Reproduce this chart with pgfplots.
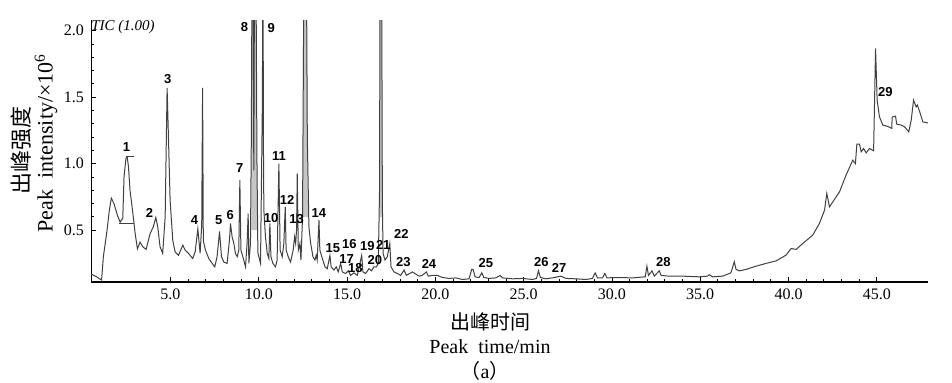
\documentclass[border=0pt]{standalone}
\usepackage{pgfplots}
\pgfplotsset{compat=1.18}
\usepackage{fontspec}
\setmainfont{Liberation Serif}
\newfontfamily\lab{Liberation Sans}
\newfontfamily\cjk{Noto Sans CJK SC}
\begin{document}
\begin{tikzpicture}
\path[use as bounding box] (0,0) rectangle (476pt,191pt);
\begin{axis}[
 at={(45.5pt,50pt)}, anchor=south west,
 scale only axis, width=418.5pt, height=131pt,
 xmin=0.5, xmax=47.9, ymin=0.11, ymax=2.08,
 axis x line*=bottom, axis y line*=left,
 x axis line style={line width=1.1pt,-}, y axis line style={line width=0.5pt,-},
 xtick={5,10,...,45}, ytick={0.5,1,1.5,2},
 minor x tick num=4, minor y tick num=4,
 tick align=inside, major tick length=2.5pt, minor tick length=1.5pt,
 tick style={black, line width=0.4pt},
 xticklabel style={/pgf/number format/fixed, /pgf/number format/fixed zerofill, /pgf/number format/precision=1},
 yticklabel style={/pgf/number format/fixed, /pgf/number format/fixed zerofill, /pgf/number format/precision=1},
 /pgf/number format/assume math mode=true,
 tick label style={font=\fontsize{8}{9}\selectfont},
 clip mode=individual,
]
\addplot[fill=gray!45, draw=none, forget plot] coordinates {(9.58,0.5) (9.62,2.5) (9.84,2.5) (9.90,0.5)} -- cycle;
\addplot[fill=gray!45, draw=none, forget plot] coordinates {(12.50,0.6) (12.56,2.5) (12.70,2.5) (12.78,0.6)} -- cycle;
\addplot[fill=gray!45, draw=none, forget plot] coordinates {(16.85,0.6) (16.87,2.5) (16.96,2.5) (16.99,0.6)} -- cycle;
\addplot[black!75, line width=0.5pt] coordinates {
(0.50,0.17) (0.80,0.15) (1.10,0.125) (1.20,0.30) (1.39,0.48) (1.54,0.65) (1.65,0.74) (1.80,0.70)
(2.00,0.61) (2.15,0.56) (2.30,0.59) (2.37,0.90) (2.48,1.04) (2.55,1.05) (2.62,0.98) (2.71,0.80)
(2.85,0.65) (3.00,0.475) (3.13,0.36) (3.28,0.41) (3.43,0.375) (3.62,0.355) (3.85,0.475) (4.03,0.525)
(4.17,0.595) (4.28,0.525) (4.41,0.375) (4.56,0.325) (4.70,0.60) (4.81,1.57) (4.88,1.23) (4.98,0.725)
(5.13,0.425) (5.26,0.337) (5.45,0.31) (5.70,0.387) (5.83,0.35) (6.02,0.325) (6.26,0.287) (6.40,0.337)
(6.55,0.51) (6.68,0.325) (6.77,0.54) (6.82,1.57) (6.86,0.42) (6.98,0.35) (7.17,0.287) (7.36,0.25)
(7.51,0.224) (7.64,0.30) (7.78,0.49) (7.89,0.30) (8.02,0.26) (8.21,0.25) (8.34,0.425) (8.40,0.55)
(8.49,0.45) (8.59,0.40) (8.68,0.325) (8.78,0.30) (8.87,0.35) (8.93,0.876) (8.99,0.35) (9.10,0.30)
(9.25,0.224) (9.34,0.40) (9.40,0.625) (9.44,0.25) (9.53,0.40) (9.58,1.2) (9.62,2.5) (9.68,2.5)
(9.72,0.95) (9.76,2.5) (9.84,2.5) (9.90,1.0) (9.95,0.33) (10.10,0.25) (10.20,1.4) (10.24,2.5)
(10.27,1.0) (10.29,0.65) (10.38,0.45) (10.48,0.325) (10.57,0.287) (10.63,0.55) (10.69,0.30) (10.80,0.25)
(10.95,0.224) (11.04,0.275) (11.14,1.00) (11.21,0.35) (11.33,0.30) (11.42,0.40) (11.50,0.675) (11.55,0.35)
(11.67,0.30) (11.80,0.26) (11.95,0.35) (12.03,0.45) (12.09,0.40) (12.14,0.50) (12.18,0.925) (12.24,0.35)
(12.33,0.40) (12.39,0.275) (12.48,0.60) (12.53,1.8) (12.56,2.5) (12.70,2.5) (12.75,1.2) (12.84,0.525)
(12.94,0.40) (13.07,0.30) (13.18,0.275) (13.25,0.31) (13.31,0.275) (13.41,0.575) (13.46,0.35) (13.60,0.287)
(13.75,0.224) (13.88,0.21) (14.03,0.31) (14.10,0.224) (14.26,0.20) (14.39,0.224) (14.50,0.186) (14.64,0.25)
(14.73,0.186) (14.92,0.174) (15.07,0.194) (15.20,0.16) (15.39,0.179) (15.58,0.16) (15.83,0.31) (15.90,0.186)
(16.05,0.174) (16.24,0.21) (16.39,0.194) (16.52,0.224) (16.66,0.224) (16.77,0.25) (16.84,0.8) (16.87,2.5)
(16.96,2.5) (17.00,0.7) (17.04,0.325) (17.15,0.275) (17.28,0.30) (17.42,0.40) (17.49,0.224) (17.66,0.186)
(17.85,0.174) (18.04,0.16) (18.23,0.20) (18.36,0.16) (18.55,0.174) (18.70,0.186) (18.89,0.17) (19.08,0.154)
(19.26,0.16) (19.49,0.186) (19.60,0.154) (19.83,0.159) (20.11,0.16) (20.40,0.144) (20.78,0.137) (21.16,0.141)
(21.53,0.129) (21.91,0.134) (22.06,0.205) (22.14,0.205) (22.25,0.149) (22.48,0.144) (22.63,0.179) (22.75,0.144)
(23.04,0.137) (23.42,0.141) (23.67,0.159) (23.80,0.141) (24.37,0.134) (24.93,0.137) (25.50,0.129) (25.73,0.137)
(25.84,0.194) (25.95,0.144) (26.26,0.134) (26.63,0.141) (27.11,0.154) (27.39,0.137) (27.96,0.134) (28.53,0.129)
(28.90,0.137) (29.05,0.179) (29.18,0.141) (29.47,0.141) (29.60,0.174) (29.72,0.141) (30.23,0.144) (31.17,0.141)
(31.89,0.149) (31.98,0.229) (32.07,0.16) (32.27,0.194) (32.40,0.154) (32.68,0.194) (32.79,0.159) (33.25,0.154)
(34.00,0.154) (34.95,0.149) (35.42,0.154) (35.50,0.165) (35.70,0.149) (36.27,0.154) (36.74,0.179) (36.93,0.262)
(37.03,0.205) (37.22,0.194) (37.60,0.205) (38.16,0.229) (38.73,0.25) (39.30,0.269) (39.86,0.312) (40.15,0.362)
(40.43,0.355) (40.81,0.40) (41.37,0.462) (41.75,0.55) (42.04,0.65) (42.17,0.776) (42.32,0.675) (42.51,0.713)
(42.89,0.788) (43.26,0.914) (43.64,1.026) (43.79,1.00) (43.87,1.147) (44.02,1.147) (44.12,1.089) (44.25,1.114)
(44.40,1.081) (44.59,1.114) (44.82,1.096) (44.93,1.866) (45.02,1.477) (45.15,1.352) (45.34,1.29) (45.62,1.28)
(45.85,1.265) (45.87,1.35) (46.06,1.357) (46.13,1.297) (46.38,1.29) (46.57,1.277) (46.81,1.239) (46.95,1.327)
(47.08,1.477) (47.23,1.427) (47.30,1.44) (47.46,1.377) (47.61,1.314) (47.89,1.306)
};
\addplot[black!75, line width=0.5pt, forget plot] coordinates {(2.50,1.05) (2.92,1.05)};
\addplot[black!75, line width=0.5pt, forget plot] coordinates {(2.07,0.55) (2.92,0.55)};
\node[anchor=west, font=\itshape\fontsize{7.5}{8}\selectfont, inner sep=0pt] at (axis cs:0.5,2.03) {TIC (1.00)};
\begin{scope}[every node/.style={font=\lab\bfseries\fontsize{6.5}{7}\selectfont, inner sep=0pt}]
\node at (axis cs:2.51,1.126) {1};
\node at (axis cs:3.81,0.630) {2};
\node at (axis cs:4.85,1.633) {3};
\node at (axis cs:6.36,0.575) {4};
\node at (axis cs:7.74,0.575) {5};
\node at (axis cs:8.38,0.613) {6};
\node at (axis cs:8.93,0.964) {7};
\node at (axis cs:9.19,2.029) {8};
\node at (axis cs:10.70,2.017) {9};
\node at (axis cs:10.70,0.588) {10};
\node at (axis cs:11.14,1.056) {11};
\node at (axis cs:11.61,0.726) {12};
\node at (axis cs:12.14,0.583) {13};
\node at (axis cs:13.41,0.626) {14};
\node at (axis cs:14.20,0.362) {15};
\node at (axis cs:15.13,0.392) {16};
\node at (axis cs:14.98,0.286) {17};
\node at (axis cs:15.47,0.212) {18};
\node at (axis cs:16.15,0.380) {19};
\node at (axis cs:16.58,0.274) {20};
\node at (axis cs:17.05,0.387) {21};
\node at (axis cs:18.07,0.475) {22};
\node at (axis cs:18.19,0.257) {23};
\node at (axis cs:19.64,0.244) {24};
\node at (axis cs:22.86,0.250) {25};
\node at (axis cs:26.01,0.257) {26};
\node at (axis cs:27.01,0.217) {27};
\node at (axis cs:32.91,0.257) {28};
\node at (axis cs:45.48,1.540) {29};
\end{scope}
\end{axis}
\node[rotate=90, font=\cjk\fontsize{11}{12}\selectfont] at (10.8pt,116pt) {出峰强度};
\node[rotate=90, font=\fontsize{11}{12}\selectfont] at (23pt,119.5pt) {Peak\enspace intensity/×10\textsuperscript{6}};
\node[font=\cjk\fontsize{10}{12}\selectfont] at (245pt,30pt) {出峰时间};
\node[font=\fontsize{10}{12}\selectfont] at (245pt,17.5pt) {Peak\enspace time/min};
\node[font=\fontsize{10}{12}\selectfont] at (242.5pt,5.5pt) {{\cjk （}a{\cjk ）}};
\end{tikzpicture}
\end{document}
